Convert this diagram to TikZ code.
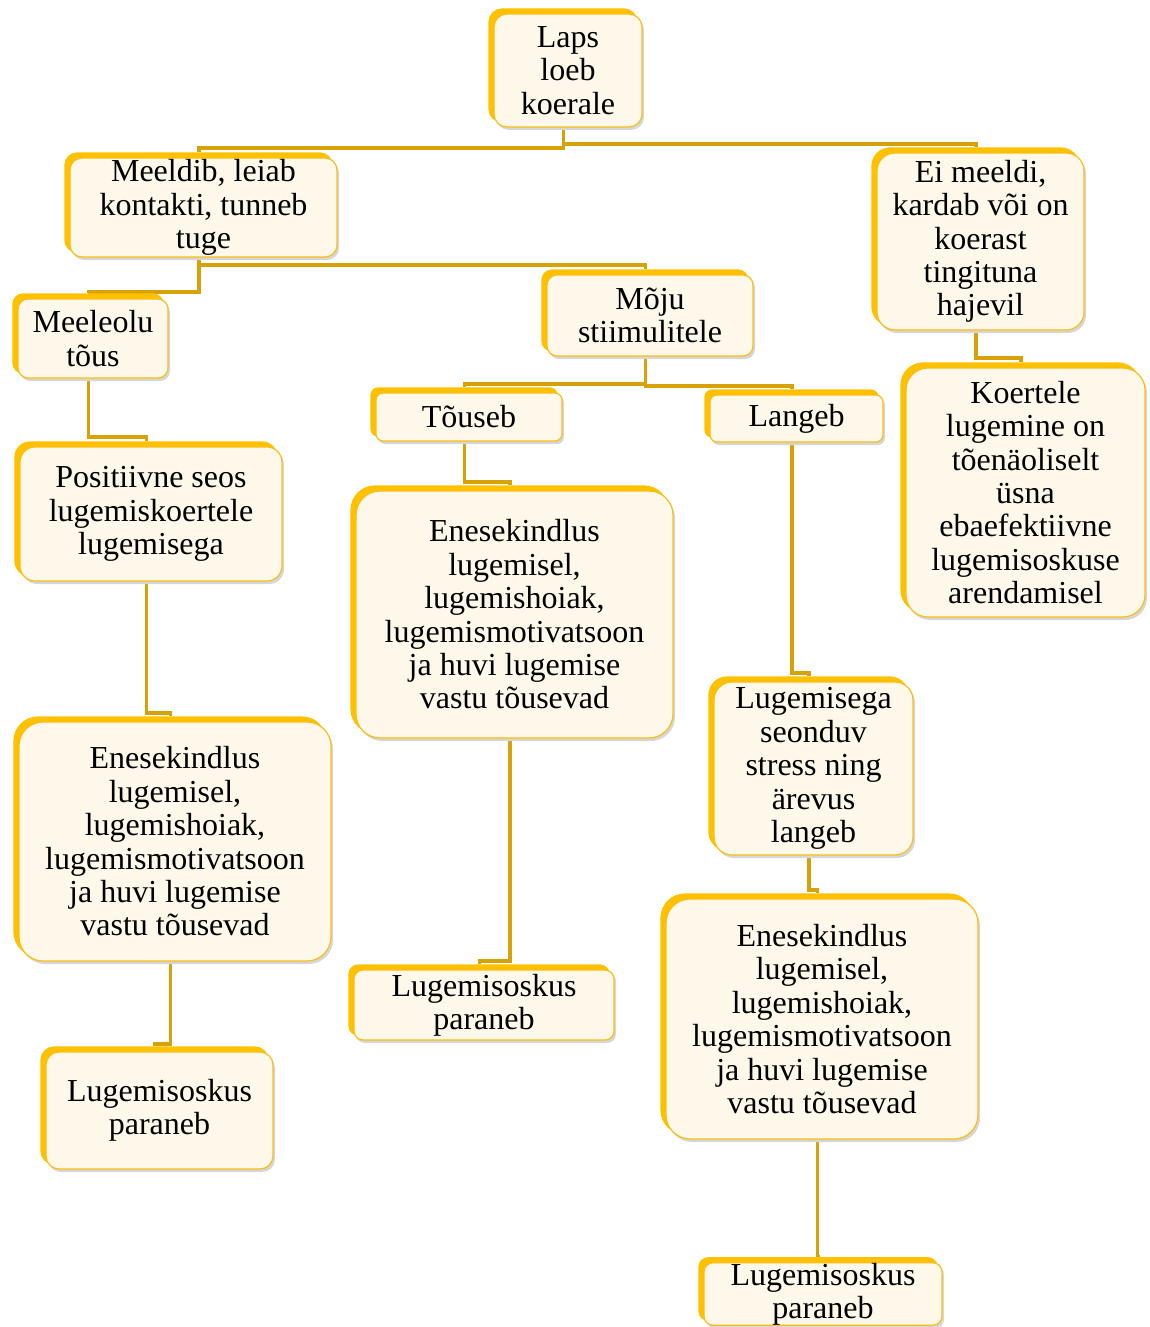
\documentclass[tikz,border=0pt]{standalone}
\usepackage{fontspec}
\setmainfont{Liberation Serif}
\usetikzlibrary{shadows,backgrounds}
\definecolor{cream}{RGB}{253,248,233}
\definecolor{gold}{RGB}{255,192,0}
\definecolor{goldline}{RGB}{250,190,20}
\definecolor{conncol}{RGB}{214,162,8}
\newcommand\bx[7]{%
  \node[box, rounded corners=#6, minimum width={(#4-#2)*1pt}, minimum height={(#5-#3)*1pt}] (#1) at ({(#2+#4)/2},{(#3+#5)/2}) {#7};}
\newcommand\cn[3]{%
  \path ([xshift=-4.5pt]#1.south) coordinate (s) ([xshift=-4.5pt,yshift=5pt]#2.north) coordinate (t) (0,#3) coordinate (m);
  \draw[conn] (s) -- (s |- m) -| (t);}
\begin{document}
\begin{tikzpicture}[x=1pt,y=-1pt,
  box/.style={draw=goldline, line width=1.2pt, fill=cream, align=center, inner sep=0pt,
    font=\fontsize{32}{33.4}\selectfont,
    general shadow={fill=black!16, draw=none, shadow xshift=2pt, shadow yshift=-3pt},
    copy shadow={fill=gold, draw=gold, shadow xshift=-5pt, shadow yshift=5pt}},
  conn/.style={draw=conncol, line width=3.2pt}]
\useasboundingbox (0,0) rectangle (1150,1327);
\clip (0,0) rectangle (1150,1327);

\bx{laps}{494}{14}{642}{127}{13pt}{Laps\\loeb\\koerale}
\bx{meeldib}{70}{158}{337}{257}{12pt}{Meeldib, leiab\\kontakti, tunneb\\tuge}
\bx{ei}{877}{153}{1084}{330}{18pt}{Ei meeldi,\\kardab või on\\koerast\\tingituna\\hajevil}
\bx{meeleolu}{18}{299}{168}{378}{10pt}{Meeleolu\\tõus}
\bx{moju}{547}{275}{753}{356}{10pt}{Mõju\\stiimulitele}
\bx{koertele}{906}{368}{1145}{617}{22pt}{Koertele\\lugemine on\\tõenäoliselt\\üsna\\ebaefektiivne\\lugemisoskuse\\arendamisel}
\bx{touseb}{376}{393}{562}{441}{7pt}{Tõuseb}
\bx{langeb}{710}{395}{883}{442}{7pt}{Langeb}
\bx{positiivne}{20}{447}{282}{581}{15pt}{Positiivne seos\\lugemiskoertele\\lugemisega}
\bx{enesmid}{356}{491}{673}{738}{24pt}{Enesekindlus\\lugemisel,\\lugemishoiak,\\lugemismotivatsoon\\ja huvi lugemise\\vastu tõusevad}
\bx{stress}{714}{682}{913}{855}{18pt}{Lugemisega\\seonduv\\stress ning\\ärevus\\langeb}
\bx{enesleft}{19}{722}{331}{961}{24pt}{Enesekindlus\\lugemisel,\\lugemishoiak,\\lugemismotivatsoon\\ja huvi lugemise\\vastu tõusevad}
\bx{lugmid}{354}{970}{614}{1040}{9pt}{Lugemisoskus\\paraneb}
\bx{enesright}{666}{899}{978}{1139}{24pt}{Enesekindlus\\lugemisel,\\lugemishoiak,\\lugemismotivatsoon\\ja huvi lugemise\\vastu tõusevad}
\bx{lugleft}{46}{1052}{273}{1169}{13pt}{Lugemisoskus\\paraneb}
\bx{lugright}{704}{1263}{942}{1325}{9pt}{Lugemisoskus\\paraneb}

\begin{pgfonlayer}{background}
\cn{laps}{meeldib}{148}
\cn{laps}{ei}{144}
\cn{meeldib}{meeleolu}{292}
\cn{meeldib}{moju}{265}
\cn{ei}{koertele}{358}
\cn{moju}{touseb}{384}
\cn{moju}{langeb}{386}
\cn{meeleolu}{positiivne}{437}
\cn{touseb}{enesmid}{482}
\cn{langeb}{stress}{673}
\cn{positiivne}{enesleft}{713}
\cn{enesmid}{lugmid}{961}
\cn{stress}{enesright}{890}
\cn{enesleft}{lugleft}{1044}
\cn{enesright}{lugright}{1257}
\end{pgfonlayer}
\end{tikzpicture}
\end{document}
